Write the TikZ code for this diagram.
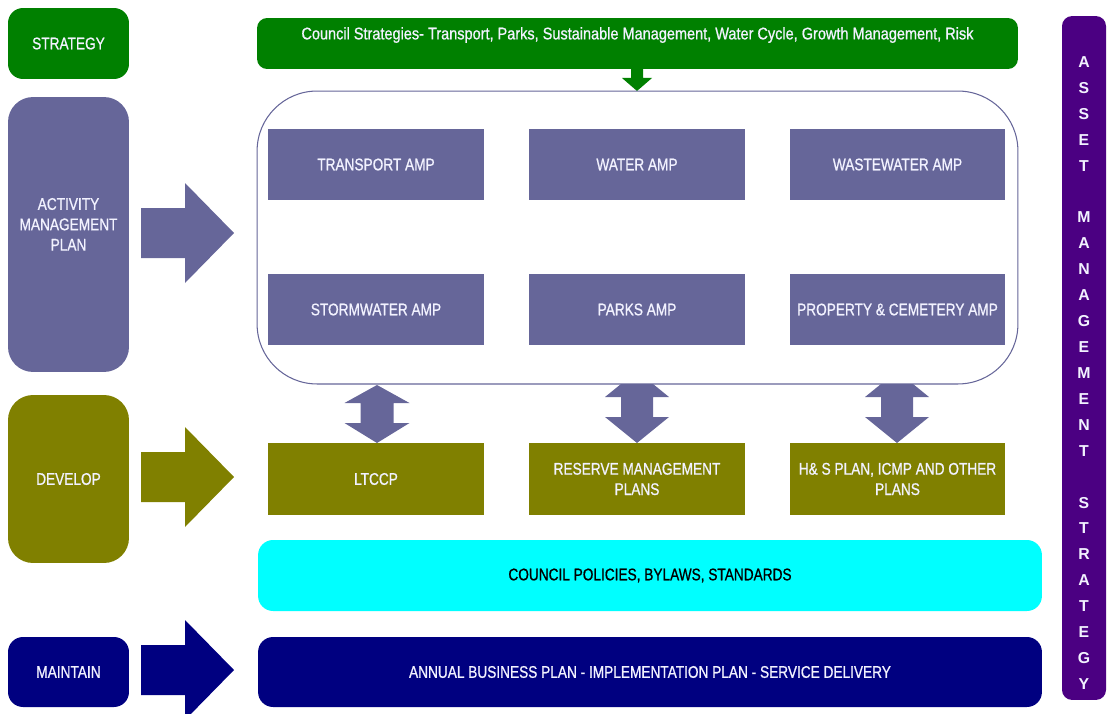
\documentclass[tikz,border=0pt]{standalone}
\usepackage{fontspec}
\setmainfont{Liberation Sans}[FakeStretch=0.81, FakeBold=0.8]
\newfontfamily\councilfont{Liberation Sans}[FakeStretch=0.86, FakeBold=0.8]
\newfontfamily\barfont{Liberation Sans}
\definecolor{ampblue}{HTML}{666699}
\definecolor{stratgreen}{HTML}{008000}
\definecolor{devolive}{HTML}{808000}
\definecolor{maintnavy}{HTML}{000080}
\definecolor{polcyan}{HTML}{00FFFF}
\definecolor{barindigo}{HTML}{4B0082}
\definecolor{paletext}{HTML}{F2F2FF}
\begin{document}
\begin{tikzpicture}[x=0.02cm, y=-0.02cm,
  lbl/.style={font=\fontsize{9.6}{11.6}\selectfont, align=center, text=paletext},
  stage/.style={lbl, rounded corners=0.3cm, minimum width=2.42cm, inner sep=0pt},
  ampbox/.style={lbl, fill=ampblue, minimum width=4.32cm, minimum height=1.42cm, inner sep=0pt},
  planbox/.style={lbl, fill=devolive, minimum width=4.32cm, minimum height=1.44cm, inner sep=0pt},
  wide/.style={lbl, rounded corners=0.3cm, minimum width=15.68cm, inner sep=0pt}]
 \useasboundingbox (0,0) rectangle (1108,713);
 % left stages
 \node (strat) [stage, fill=stratgreen, minimum height=1.42cm] at (68.5,43.5) {STRATEGY};
 \node (amp)   [stage, fill=ampblue, minimum height=5.5cm, rounded corners=0.5cm] at (68.5,234.5) {ACTIVITY\\MANAGEMENT\\PLAN\\[0pt]};
 \node (dev)   [stage, fill=devolive, minimum height=3.36cm, rounded corners=0.5cm] at (68.5,479) {DEVELOP};
 \node (maint) [stage, fill=maintnavy, minimum height=1.4cm] at (68.5,672) {MAINTAIN};
 % block arrows
 \foreach \y/\c in {233/ampblue, 477/devolive, 670/maintnavy}
  \fill[\c] (141,\y-25) -- (185,\y-25) -- (185,\y-50) -- (234,\y) -- (185,\y+50) -- (185,\y+25) -- (141,\y+25) -- cycle;
 % council strategies
 \node (council) [lbl, fill=stratgreen, rounded corners=0.2cm, minimum width=15.22cm, minimum height=1.02cm] at (637.5,43.5) {};
 \node (counciltxt) [lbl, font=\councilfont\fontsize{9.6}{11.6}\selectfont] at (637.5,35) {Council Strategies- Transport, Parks, Sustainable Management, Water Cycle, Growth Management, Risk};
 \fill[stratgreen] (631,69) -- (643,69) -- (643,78) -- (652,78) -- (637,91) -- (622,78) -- (631,78) -- cycle;
 % double arrows
 \fill[ampblue] (377,385) -- (409.5,403) -- (393.5,403) -- (393.5,423) -- (409.5,423) -- (377,443)
   -- (344.5,423) -- (360.5,423) -- (360.5,403) -- (344.5,403) -- cycle;
 \foreach \x in {637, 897}
  \fill[ampblue] (\x,371) -- (\x+32,397) -- (\x+16,397) -- (\x+16,417) -- (\x+32,417) -- (\x,443)
   -- (\x-32,417) -- (\x-16,417) -- (\x-16,397) -- (\x-32,397) -- cycle;
 % activity plans
 \node (frame) [draw=ampblue, fill=white, line width=0.6pt, rounded corners=1.2cm, minimum width=15.22cm, minimum height=5.86cm] at (637.5,237.5) {};
 \node (transport) [ampbox] at (376,164.5) {TRANSPORT AMP};
 \node (water)     [ampbox] at (637,164.5) {WATER AMP};
 \node (waste)     [ampbox] at (897.5,164.5) {WASTEWATER AMP};
 \node (storm)     [ampbox] at (376,309.5) {STORMWATER AMP};
 \node (parks)     [ampbox] at (637,309.5) {PARKS AMP};
 \node (property)  [ampbox] at (897.5,309.5) {PROPERTY \& CEMETERY AMP};
 % development plans
 \node (ltccp)   [planbox] at (376,479) {LTCCP};
 \node (reserve) [planbox] at (637,479) {RESERVE MANAGEMENT\\PLANS};
 \node (hs)      [planbox] at (897.5,479) {H\& S PLAN, ICMP AND OTHER\\PLANS};
 % policies and delivery
 \node (policy)  [wide, fill=polcyan, text=black, minimum height=1.42cm] at (650,575.5) {COUNCIL POLICIES, BYLAWS, STANDARDS};
 \node (annual)  [wide, fill=maintnavy, minimum height=1.4cm] at (650,672) {ANNUAL BUSINESS PLAN - IMPLEMENTATION PLAN - SERVICE DELIVERY};
 % asset management strategy
 \node (ams) [fill=barindigo, rounded corners=0.2cm, minimum width=0.88cm, minimum height=13.68cm] at (1084,358) {};
 \node (amstxt) [font=\barfont\bfseries\fontsize{9}{14.75}\selectfont, text=paletext, align=center] at (1084,373)
  {A\\S\\S\\E\\T\\~\\M\\A\\N\\A\\G\\E\\M\\E\\N\\T\\~\\S\\T\\R\\A\\T\\E\\G\\Y};
\end{tikzpicture}
\end{document}
